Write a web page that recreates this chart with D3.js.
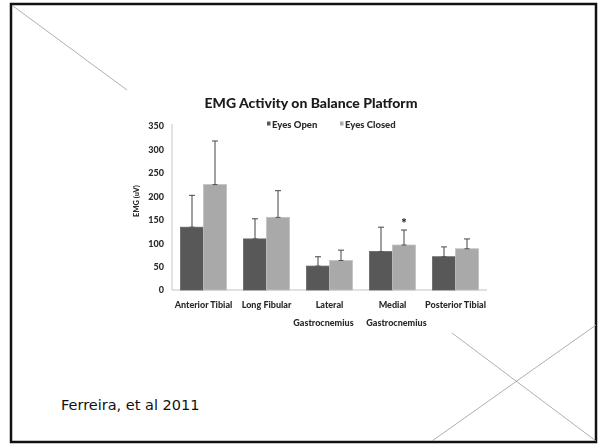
<!DOCTYPE html>
<html>
<head>
<meta charset="utf-8">
<script src="https://cdn.jsdelivr.net/npm/d3@7"></script>
<style>
  html, body { margin: 0; padding: 0; background: #fff; }
  svg { display: block; }
</style>
</head>
<body>
<svg id="slide" width="600" height="445"></svg>
<script>
// EMG activity (uV) by muscle, eyes open vs eyes closed, with upper SD bars
const categories = [["Anterior Tibial"], ["Long Fibular"], ["Lateral", "Gastrocnemius"], ["Medial", "Gastrocnemius"], ["Posterior Tibial"]];
const seriesNames = ["Eyes Open", "Eyes Closed"];
const eyesOpen = [134, 109, 51, 82, 71];
const eyesClosed = [225, 155, 63, 96, 88];
const sdOpen = [68, 43, 20, 52, 21];
const sdClosed = [93, 57, 22, 32, 21];
const significant = [false, false, false, true, false]; // * marks eyes-closed difference
const yTicks = [0, 50, 100, 150, 200, 250, 300, 350];

const colors = ["#585858", "#a9a9a9"];
const font = "Lato";
const ink = "#2a2a2a";

const svg = d3.select("#slide");

// Slide frame and decorative diagonal strokes
svg.append("rect").attr("x", 11).attr("y", 4).attr("width", 585).attr("height", 438)
  .attr("fill", "none").attr("stroke", "#111").attr("stroke-width", 2.5);
const deco = [[13, 6, 127, 90], [452, 333, 596, 441], [432, 441, 596, 325]];
svg.selectAll("line.deco").data(deco).join("line").attr("class", "deco")
  .attr("x1", d => d[0]).attr("y1", d => d[1]).attr("x2", d => d[2]).attr("y2", d => d[3])
  .attr("stroke", "#9a9a9a").attr("stroke-width", 0.8);

// Soft look of the embedded chart image
const defs = svg.append("defs");
defs.append("filter").attr("id", "soft").append("feGaussianBlur").attr("stdDeviation", 0.35);

const chart = svg.append("g").attr("filter", "url(#soft)");

const x = d3.scaleBand().domain(d3.range(categories.length)).range([172, 487])
  .paddingInner(0.27).paddingOuter(0.135);
const xs = d3.scaleBand().domain(seriesNames).range([0, x.bandwidth()]);
const y = d3.scaleLinear().domain([0, 350]).range([290, 126]);

// Title
chart.append("text").attr("x", 311).attr("y", 108).attr("text-anchor", "middle")
  .attr("font-family", font).attr("font-weight", 900).attr("font-size", 14)
  .attr("fill", "#1a1a1a").text("EMG Activity on Balance Platform");

// Legend
const legend = chart.append("g").selectAll("g").data(seriesNames).join("g")
  .attr("transform", (d, i) => `translate(${[267, 340][i]},0)`);
legend.append("rect").attr("x", 0).attr("y", 121.5).attr("width", 3.5).attr("height", 4)
  .attr("fill", (d, i) => colors[i]);
legend.append("text").attr("x", 5).attr("y", 127.5)
  .attr("font-family", font).attr("font-weight", 900).attr("font-size", 9.5)
  .attr("fill", ink).text(d => d);

// Y axis
const yAxis = chart.append("g").attr("transform", "translate(172,0)")
  .call(d3.axisLeft(y).tickValues(yTicks).tickSize(0).tickPadding(8));
yAxis.select(".domain").attr("stroke", "#c4c4c4").attr("stroke-width", 1)
  .attr("d", `M0,${y(350) - 2}V${y(0)}`);
yAxis.selectAll("text").attr("font-family", font).attr("font-weight", 900)
  .attr("font-size", 9).attr("fill", ink);

chart.append("text").attr("transform", `translate(139,${(y(0) + y(350)) / 2 - 7}) rotate(-90)`)
  .attr("text-anchor", "middle").attr("font-family", font).attr("font-weight", 900)
  .attr("font-size", 7.5).attr("fill", ink).text("EMG (uV)");

// Baseline
chart.append("line").attr("x1", 172).attr("x2", 487).attr("y1", y(0)).attr("y2", y(0))
  .attr("stroke", "#c4c4c4").attr("stroke-width", 1.2);

// Bars
const rows = categories.map((c, i) => [
  { i, s: seriesNames[0], v: eyesOpen[i], sd: sdOpen[i], c: colors[0] },
  { i, s: seriesNames[1], v: eyesClosed[i], sd: sdClosed[i], c: colors[1] }
]).flat();

chart.selectAll("rect.bar").data(rows).join("rect").attr("class", "bar")
  .attr("x", d => x(d.i) + xs(d.s)).attr("width", xs.bandwidth())
  .attr("y", d => y(d.v)).attr("height", d => y(0) - y(d.v))
  .attr("fill", d => d.c).attr("stroke", d => d3.color(d.c).brighter(0.4)).attr("stroke-width", 0.8);

// Upper error bars
const err = chart.selectAll("g.err").data(rows).join("g").attr("class", "err")
  .attr("transform", d => `translate(${x(d.i) + xs(d.s) + xs.bandwidth() / 2},0)`);
err.append("line").attr("y1", d => y(d.v)).attr("y2", d => y(d.v + d.sd))
  .attr("stroke", "#555").attr("stroke-width", 1.1);
err.append("line").attr("x1", -3).attr("x2", 3)
  .attr("y1", d => y(d.v + d.sd)).attr("y2", d => y(d.v + d.sd))
  .attr("stroke", "#555").attr("stroke-width", 1.1);
err.append("line").attr("x1", -2.5).attr("x2", 2.5)
  .attr("y1", d => y(d.v)).attr("y2", d => y(d.v))
  .attr("stroke", "#555").attr("stroke-width", 1);

// Significance marker
chart.selectAll("text.sig").data(rows.filter(d => d.s === seriesNames[1] && significant[d.i]))
  .join("text").attr("class", "sig")
  .attr("x", d => x(d.i) + xs(d.s) + xs.bandwidth() / 2)
  .attr("y", d => y(d.v + d.sd) - 2)
  .attr("text-anchor", "middle").attr("font-family", font).attr("font-weight", 900)
  .attr("font-size", 13).attr("fill", "#1a1a1a").text("*");

// Category labels; wrapped second lines are nudged apart so neighbours don't touch
const wrapNudge = [0, 0, -6, 4, 0];
const catLabels = chart.selectAll("text.cat").data(categories).join("text").attr("class", "cat")
  .attr("font-family", font).attr("font-weight", 900).attr("font-size", 9)
  .attr("fill", ink).attr("text-anchor", "middle");
catLabels.selectAll("tspan").data((d, i) => d.map((t, j) => ({ t, i, j }))).join("tspan")
  .attr("x", d => x(d.i) + x.bandwidth() / 2 + (d.j > 0 ? wrapNudge[d.i] : 0))
  .attr("y", d => 308 + d.j * 18)
  .text(d => d.t);

// Citation
svg.append("text").attr("x", 61).attr("y", 410)
  .attr("font-family", "DejaVu Sans").attr("font-size", 14.5)
  .attr("fill", "#111").text("Ferreira, et al 2011");
</script>
</body>
</html>
